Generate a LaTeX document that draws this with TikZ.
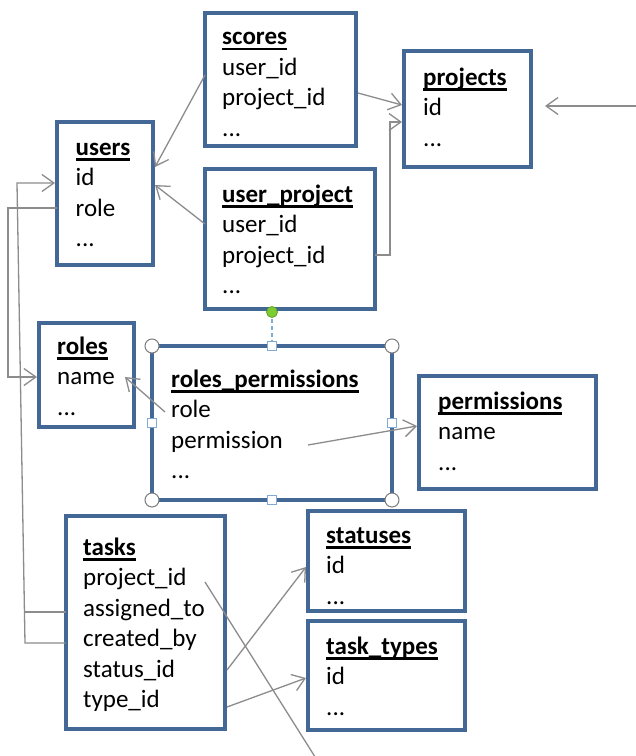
\documentclass[tikz,border=0pt]{standalone}
\usepackage{fontspec}
\setmainfont{Carlito}
\usetikzlibrary{arrows.meta,calc}

\definecolor{tblborder}{RGB}{68,104,150}
\definecolor{linkgray}{RGB}{140,140,140}
\definecolor{handleblue}{RGB}{130,170,215}
\definecolor{handlegray}{RGB}{125,125,125}
\definecolor{rotgreen}{RGB}{125,205,50}
\definecolor{rotedge}{RGB}{95,160,40}

% bold table title with a heavy underline
\newsavebox\ttlbox
\newcommand\tabletitle[1]{\sbox\ttlbox{\bfseries #1}\usebox\ttlbox\llap{\rule[-5.5pt]{\wd\ttlbox}{2.5pt}}}

% #1 name, #2/#3 top-left corner, #4/#5 size, #6/#7 text offset, #8 fields
\newcommand\dbtable[8]{%
  \node[tbl, minimum width=#4pt, minimum height=#5pt] (#1) at (#2,#3) {};
  \node[fields] (#1-txt) at ([shift={(#6,#7)}]#1.north west) {\rule{0pt}{22pt}#8};}

\begin{document}
\begin{tikzpicture}[x=1pt, y=-1pt,
  tbl/.style={draw=tblborder, line width=3.5pt, rectangle, anchor=north west,
              inner sep=0pt, outer sep=0pt},
  fields/.style={font=\fontsize{25}{30.5}\selectfont, align=left,
                 inner sep=0pt, anchor=north west},
  conn/.style={draw=linkgray, line width=1.3pt,
               -{Straight Barb[length=12pt,width=17pt]}},
  plain/.style={draw=linkgray, line width=1.3pt},
  cornerhandle/.style={draw=handlegray, fill=white, line width=1pt},
  sidehandle/.style={draw=handleblue, fill=white, line width=1pt}]

\fill[white] (0,0) rectangle (636,756);
\useasboundingbox (0,0) rectangle (636,756);

% tables
\dbtable{scores}{205}{13}{151}{133}{17}{9.5}{\tabletitle{scores}\\ user\_id\\ project\_id\\ ...}
\dbtable{projects}{404}{51}{127}{116}{19}{12}{\tabletitle{projects}\\ id\\ ...}
\dbtable{users}{57}{122}{96}{143}{18.5}{11}{\tabletitle{users}\\ id\\ role\\ ...}
\dbtable{userproject}{205}{169}{170}{140}{17}{11}{\tabletitle{user\_project}\\ user\_id\\ project\_id\\ ...}
\dbtable{roles}{39}{323}{95}{104}{18}{9}{\tabletitle{roles}\\ name\\ ...}
\dbtable{rp}{152}{346}{240}{154}{19}{19}{\tabletitle{roles\_permissions}\\ role\\ permission\\ ...}
\dbtable{permissions}{419}{376}{177}{113}{19}{11}{\tabletitle{permissions}\\ name\\ ...}
\dbtable{tasks}{66}{516}{159}{213}{17}{17}{\tabletitle{tasks}\\ project\_id\\ assigned\_to\\ created\_by\\ status\_id\\ type\_id}
\dbtable{statuses}{308}{511}{157}{100}{18}{10}{\tabletitle{statuses}\\ id\\ ...}
\dbtable{tasktypes}{308}{621}{157}{109}{18}{11}{\tabletitle{task\_types}\\ id\\ ...}

% free ends of connectors leaving the drawing
\coordinate (fromright) at (640,106);
\coordinate (tobottom) at (317,760);

% references
\draw[conn] ($(scores.north west)+(0,62)$) -- ($(users.north east)+(2,45)$);
\draw[conn] ($(userproject.north west)+(0,55)$) -- ($(users.north east)+(2,63)$);
\draw[conn] ($(scores.north east)+(2,80)$) -- ($(projects.north west)+(-2,54)$);
\draw[conn] ($(userproject.north east)+(0,86)$) -- ++(15,0) |- ($(projects.north west)+(-2,71)$);
\draw[conn] (fromright) -- ($(projects.north east)+(14,55)$);
\draw[conn] ($(users.north west)+(0,86)$) -- ++(-49,0) |- ($(roles.north west)+(-2,54)$);
\draw[plain] ($(tasks.north west)+(0,96)$) -- ++(-41,0);
\draw[conn] ($(tasks.north west)+(0,127)$) -- ++(-41,0)
  -- ($(users.north west)+(-40,61)$) -- ($(users.north west)+(-2,61)$);
\draw[conn] ($(rp.north west)+(13,66)$) -- ($(roles.north west)+(86,54)$);
\draw[conn] ($(rp.north west)+(156,99)$) -- ($(permissions.north west)+(-2,50)$);
\draw[conn] ($(tasks.north east)+(2,154)$) -- ($(statuses.north west)+(-2,56)$);
\draw[conn] ($(tasks.north east)+(2,191)$) -- ($(tasktypes.north west)+(-2,57)$);
\draw[plain] ($(tasks.north west)+(139,66)$) -- (tobottom);

% selection handles around roles_permissions
\coordinate (rot) at ($(rp.north)+(0,-34)$);
\draw[handleblue, line width=1.2pt, dashed, dash pattern=on 4pt off 3pt] (rot) -- (rp.north);
\foreach \c in {north west, north east, south west, south east}
  \filldraw[cornerhandle] (rp.\c) circle (7);
\foreach \c in {north, south, west, east}
  \filldraw[sidehandle] ($(rp.\c)+(-4.5,-4.5)$) rectangle ++(9,9);
\filldraw[fill=rotgreen, draw=rotedge, line width=0.8pt] (rot) circle (5.5);
\end{tikzpicture}
\end{document}
